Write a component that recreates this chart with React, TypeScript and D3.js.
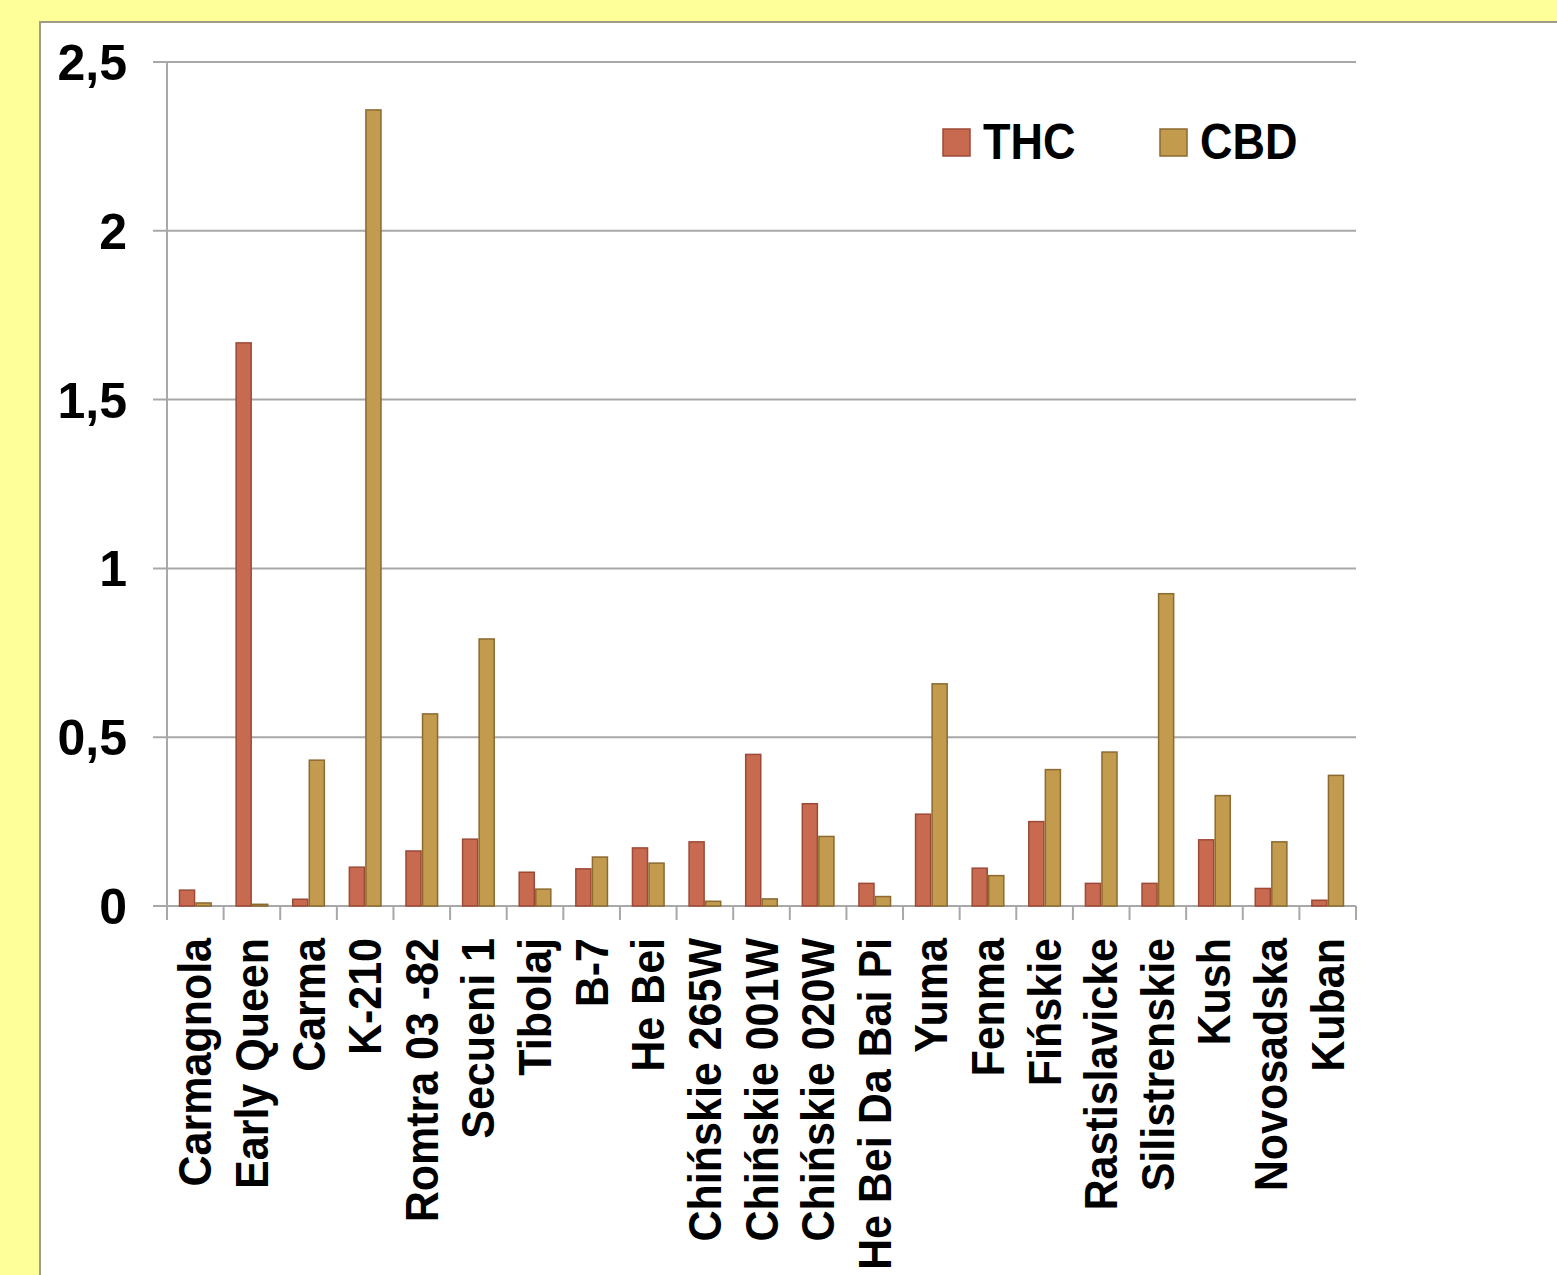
import React from "react";
import * as d3 from "d3";

const categories = [
  "Carmagnola", "Early Queen", "Carma", "K-210", "Romtra 03 -82", "Secueni 1",
  "Tibolaj", "B-7", "He Bei", "Chińskie 265W", "Chińskie 001W", "Chińskie 020W",
  "He Bei Da Bai Pi", "Yuma", "Fenma", "Fińskie", "Rastislavicke", "Silistrenskie",
  "Kush", "Novosadska", "Kuban",
];
const thcValues = [
  0.047, 1.668, 0.02, 0.115, 0.163, 0.198, 0.1, 0.11, 0.172, 0.19, 0.449, 0.303,
  0.067, 0.272, 0.112, 0.25, 0.067, 0.067, 0.196, 0.052, 0.017,
];
const cbdValues = [
  0.009, 0.005, 0.432, 2.358, 0.569, 0.791, 0.05, 0.145, 0.127, 0.014, 0.021, 0.206,
  0.028, 0.658, 0.09, 0.404, 0.456, 0.925, 0.327, 0.19, 0.387,
];
const seriesNames = ["THC", "CBD"];
const yTicks = [0, 0.5, 1, 1.5, 2, 2.5];
const yTickLabels = ["0", "0,5", "1", "1,5", "2", "2,5"];

const W = 1557;
const H = 1275;
const left = 167;
const right = 1356;
const top = 62;
const bottom = 906;

const fills: Record<string, string> = { THC: "#C86A50", CBD: "#C29B4E" };
const strokes: Record<string, string> = { THC: "#9C4A37", CBD: "#8C6A30" };
const grid = "#A8A8A8";
const font = "'Liberation Sans', Arial, sans-serif";

export default function App() {
  const x = d3.scaleBand<string>().domain(categories).range([left, right]).paddingInner(0).paddingOuter(0);
  const bw = x.bandwidth();
  const x1 = d3.scaleBand<string>().domain(seriesNames).range([0, bw]).paddingInner(0).paddingOuter(0.71);
  const y = d3.scaleLinear().domain([0, 2.5]).range([bottom, top]);

  const series = [thcValues, cbdValues];
  const boundaries = categories.map((c) => x(c) as number).concat([right]);

  return (
    <svg
      width={W}
      height={H}
      style={{ position: "absolute", left: 0, top: 0, display: "block" }}
      xmlns="http://www.w3.org/2000/svg"
    >
      <rect x={0} y={0} width={W} height={H} fill="#FFFF99" />
      <rect x={40} y={22} width={W} height={H} fill="#FFFFFF" stroke="#9E9C86" strokeWidth={2} />

      {/* horizontal gridlines with outward ticks */}
      {yTicks.map((t, i) => (
        <g key={"g" + i}>
          <line x1={153} x2={right} y1={y(t)} y2={y(t)} stroke={grid} strokeWidth={2} />
          <text
            x={127}
            y={y(t)}
            dy="0.36em"
            textAnchor="end"
            fontFamily={font}
            fontWeight="bold"
            fontSize={50}
            fill="#000"
          >
            {yTickLabels[i]}
          </text>
        </g>
      ))}

      {/* y axis */}
      <line x1={left} x2={left} y1={top} y2={bottom + 14} stroke={grid} strokeWidth={2} />
      {/* category boundary ticks */}
      {boundaries.map((bx, i) => (
        <line key={"t" + i} x1={bx} x2={bx} y1={bottom} y2={bottom + 14} stroke={grid} strokeWidth={2} />
      ))}

      {/* bars */}
      {categories.map((c, ci) => (
        <g key={c} transform={`translate(${x(c)},0)`}>
          {seriesNames.map((s, si) => {
            const v = series[si][ci];
            const yy = y(v);
            return (
              <rect
                key={s}
                x={(x1(s) as number) + 0.75}
                y={yy}
                width={x1.bandwidth() - 1.5}
                height={Math.max(bottom - yy, 0.5)}
                fill={fills[s]}
                stroke={strokes[s]}
                strokeWidth={1.5}
              />
            );
          })}
        </g>
      ))}

      {/* category labels */}
      {categories.map((c) => {
        const cx = (x(c) as number) + bw / 2 + 16;
        return (
          <text
            key={"l" + c}
            transform={`translate(${cx},938) rotate(-90) scale(0.915,1)`}
            textAnchor="end"
            fontFamily={font}
            fontWeight="bold"
            fontSize={47}
            fill="#000"
          >
            {c}
          </text>
        );
      })}

      {/* legend */}
      {seriesNames.map((s, i) => {
        const lx = 943 + i * 217;
        return (
          <g key={"lg" + s}>
            <rect x={lx} y={129} width={27} height={27} fill={fills[s]} stroke={strokes[s]} strokeWidth={1.5} />
            <text
              transform={`translate(${lx + 40},159) scale(0.9,1)`}
              fontFamily={font}
              fontWeight="bold"
              fontSize={50}
              fill="#000"
            >
              {s}
            </text>
          </g>
        );
      })}
    </svg>
  );
}
